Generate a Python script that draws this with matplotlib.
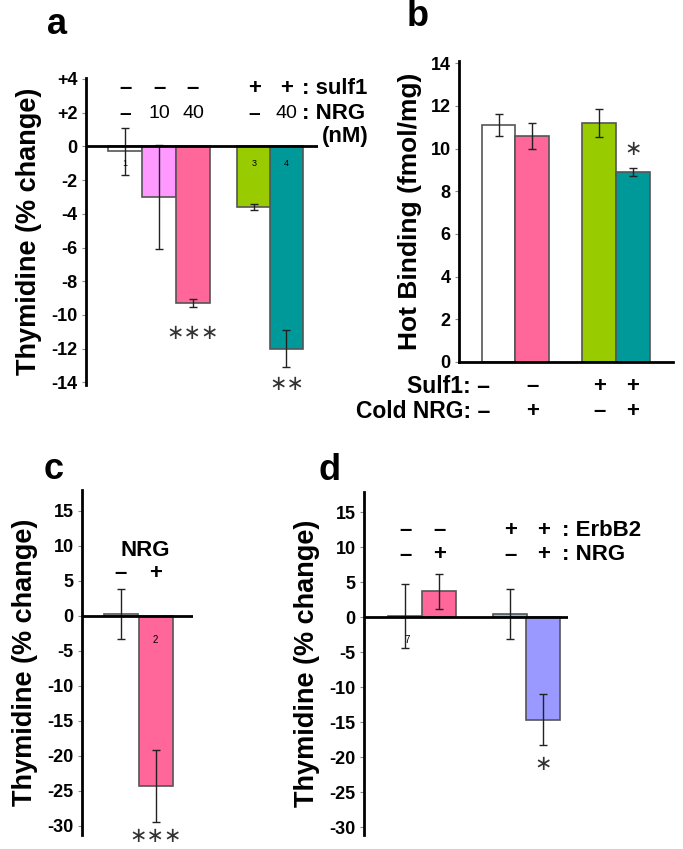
import matplotlib
matplotlib.use("Agg")
import matplotlib.pyplot as plt

plt.rcParams['font.family'] = ['Liberation Sans', 'DejaVu Sans']
plt.rcParams['font.weight'] = 'bold'
plt.rcParams['axes.unicode_minus'] = False

# panel a: thymidine, sulf1 / NRG
a_vals = [-0.3, -3.0, -9.3, -3.6, -12.0]
a_errs = [1.4, 3.1, 0.25, 0.2, 1.1]
a_cols = ['white', '#FF99FF', '#FF6699', '#99CC00', '#009999']
a_sulf = ['-', '-', '-', '+', '+']
a_nrg = ['-', '10', '40', '-', '40']
a_nums = ['1', '', '', '3', '4']
a_stars = ['', '', '***', '', '**']

# panel b: hot binding
b_vals = [11.1, 10.6, 11.2, 8.9]
b_errs = [0.5, 0.6, 0.65, 0.2]
b_cols = ['white', '#FF6699', '#99CC00', '#009999']
b_sulf = ['-', '-', '+', '+']
b_cold = ['-', '+', '-', '+']
b_stars = ['', '', '', '*']

# panel c: NRG alone
c_vals = [0.3, -24.3]
c_errs = [3.6, 5.1]
c_cols = ['white', '#FF6699']
c_nrg = ['-', '+']

# panel d: ErbB2 / NRG
d_vals = [0.2, 3.7, 0.5, -14.6]
d_errs = [4.6, 2.5, 3.6, 3.7]
d_cols = ['white', '#FF6699', '#66CCFF', '#9999FF']
d_erb = ['-', '-', '+', '+']
d_nrg = ['-', '+', '-', '+']
d_stars = ['', '', '', '*']

W, H = 683, 849
fig = plt.figure(figsize=(W / 100, H / 100), dpi=100)


def box(x0, y0, x1, y1):
    return [x0 / W, 1 - y1 / H, (x1 - x0) / W, (y1 - y0) / H]


def sign(s):
    # the figure uses short, heavy dashes for "minus"
    return '\u2013' if s == '-' else s


def style(ax, bottom=False):
    for s in ['top', 'right']:
        ax.spines[s].set_visible(False)
    ax.spines['bottom'].set_visible(bottom)
    ax.spines['left'].set_linewidth(2)
    ax.spines['bottom'].set_linewidth(2)
    ax.set_xticks([])
    ax.tick_params(axis='y', direction='out', length=3, width=0.8, color='#888888',
                   labelsize=13, pad=3)
    for t in ax.get_yticklabels():
        t.set_fontweight('bold')


def bars(ax, pos, vals, errs, cols, width):
    ax.bar(pos, vals, width=width, color=cols, edgecolor='#555555', linewidth=1.2, zorder=2)
    ax.errorbar(pos, vals, yerr=errs, fmt='none', ecolor='#222222', elinewidth=1,
                capsize=3, capthick=1, zorder=3)


star_kw = dict(family='DejaVu Sans', fontweight='normal', fontsize=15, ha='center', va='center',
               color='#333333')
hdr = dict(ha='center', va='center', fontsize=16, fontweight='bold', clip_on=False)

# ---- a ----
ax = fig.add_axes(box(86, 78, 318, 385))
pa = [0, 1, 2, 3.8, 4.75]
bars(ax, pa, a_vals, a_errs, a_cols, 0.98)
ax.axhline(0, color='black', lw=2, zorder=4)
ax.set_xlim(-1.15, 5.68)
ax.set_ylim(-14.15, 4.05)
ax.set_yticks(range(-14, 5, 2))
ax.set_yticklabels(['+%d' % v if v > 0 else str(v) for v in range(-14, 5, 2)])
style(ax)
ax.set_ylabel('Thymidine (% change)', fontsize=19.5, fontweight='bold', labelpad=7)
for x, s, n, num, st, v, e in zip(pa, a_sulf, a_nrg, a_nums, a_stars, a_vals, a_errs):
    ax.text(x, 3.4, sign(s), **hdr)
    ax.text(x, 1.95, sign(n), ha='center', va='center', fontsize=15 if n == '-' else 14,
            fontweight='bold' if n == '-' else 'normal')
    if num:
        ax.text(x, -1.0, num, ha='center', va='center', fontsize=6.5, fontweight='normal')
    if st:
        ax.text(x, v - e - 1.5 if st == '***' else v - e - 1.0, st.replace('*', '\u2217'),
                **star_kw)
ax.text(5.2, 3.4, ': sulf1', ha='left', va='center', fontsize=16, fontweight='bold', clip_on=False)
ax.text(5.2, 1.95, ': NRG', ha='left', va='center', fontsize=16, fontweight='bold', clip_on=False)
ax.text(5.8, 0.6, '(nM)', ha='left', va='center', fontsize=16, fontweight='bold', clip_on=False)
ax.text(-2.0, 7.2, 'a', fontsize=26, fontweight='bold', ha='center', va='center', clip_on=False)

# ---- b ----
ax = fig.add_axes(box(459, 61, 673, 362))
pb = [0, 1, 3, 4]
bars(ax, pb, b_vals, b_errs, b_cols, 1.0)
ax.set_xlim(-1.18, 5.2)
ax.set_ylim(0, 14.1)
ax.set_yticks(range(0, 15, 2))
style(ax, bottom=True)
ax.set_ylabel('Hot Binding (fmol/mg)', fontsize=19, fontweight='bold', labelpad=6)
for x, s, c, st, v, e in zip(pb, b_sulf, b_cold, b_stars, b_vals, b_errs):
    if x != 0:
        ax.text(x, -1.17, sign(s), **hdr)
        ax.text(x, -2.3, sign(c), **hdr)
    if st:
        ax.text(x, v + e + 0.9, st.replace('*', '\u2217'), **star_kw)
ax.text(-0.25, -1.17, 'Sulf1: ' + sign(b_sulf[0]), ha='right', va='center', fontsize=16.5,
        fontweight='bold', clip_on=False)
ax.text(-0.25, -2.3, 'Cold NRG: ' + sign(b_cold[0]), ha='right', va='center', fontsize=16.5,
        fontweight='bold', clip_on=False)
ax.text(-2.4, 16.2, 'b', fontsize=26, fontweight='bold', ha='center', va='center', clip_on=False)

# ---- c ----
ax = fig.add_axes(box(82, 490, 193, 835))
pc = [0, 1]
bars(ax, pc, c_vals, c_errs, c_cols, 0.97)
ax.axhline(0, color='black', lw=2, zorder=4)
ax.set_xlim(-1.1, 2.07)
ax.set_ylim(-31.3, 18.0)
ax.set_yticks(range(-30, 16, 5))
style(ax)
ax.set_ylabel('Thymidine (% change)', fontsize=19.5, fontweight='bold', labelpad=7)
ax.text(0.7, 9.4, 'NRG', **hdr)
for x, n in zip(pc, c_nrg):
    ax.text(x, 6.1, sign(n), **hdr)
ax.text(1, -3.4, '2', ha='center', va='center', fontsize=7, fontweight='normal')
ax.text(1, -31.5, '\u2217\u2217\u2217', clip_on=False, **star_kw)
ax.text(-1.9, 21.0, 'c', fontsize=26, fontweight='bold', ha='center', va='center', clip_on=False)

# ---- d ----
ax = fig.add_axes(box(364, 492, 568, 835))
pd_ = [0, 0.99, 3.05, 4.0]
bars(ax, pd_, d_vals, d_errs, d_cols, 0.99)
ax.axhline(0, color='black', lw=2, zorder=4)
ax.set_xlim(-1.19, 4.72)
ax.set_ylim(-31.1, 17.9)
ax.set_yticks(range(-30, 16, 5))
style(ax)
ax.set_ylabel('Thymidine (% change)', fontsize=19.5, fontweight='bold', labelpad=7)
for x, e1, n, st, v, e in zip(pd_, d_erb, d_nrg, d_stars, d_vals, d_errs):
    ax.text(x, 12.4, sign(e1), **hdr)
    ax.text(x, 8.9, sign(n), **hdr)
    if st:
        ax.text(x, v - e - 2.6, st.replace('*', '\u2217'), **star_kw)
ax.text(0.05, -3.2, '7', ha='center', va='center', fontsize=7, fontweight='normal')
ax.text(4.55, 12.4, ': ErbB2', ha='left', va='center', fontsize=16, fontweight='bold', clip_on=False)
ax.text(4.55, 8.9, ': NRG', ha='left', va='center', fontsize=16, fontweight='bold', clip_on=False)
ax.text(-2.18, 21.0, 'd', fontsize=26, fontweight='bold', ha='center', va='center', clip_on=False)

fig.savefig('out.png', dpi=100)
